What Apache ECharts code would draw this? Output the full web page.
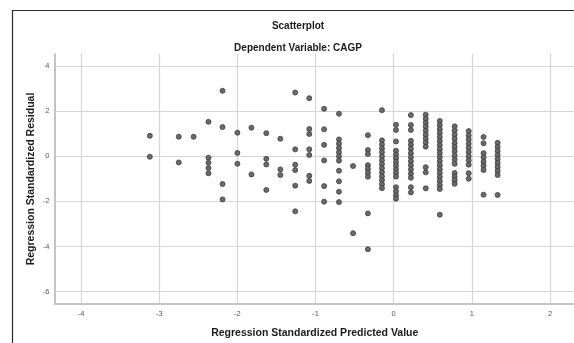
<!DOCTYPE html>
<html>
<head>
<meta charset="utf-8">
<script src="https://cdn.jsdelivr.net/npm/echarts@6/dist/echarts.min.js"></script>
<style>
  html, body { margin: 0; padding: 0; background: #fff; }
  #chart { width: 574px; height: 343px; }
</style>
</head>
<body>
<div id="chart"></div>
<script>
// predicted value of each column of points (x) and the residuals in it (y)
var predicted = [-3.12, -2.75, -2.56, -2.37, -2.19, -2.00, -1.82, -1.63, -1.45, -1.26,
    -1.08, -0.89, -0.70, -0.52, -0.33, -0.15, 0.03, 0.22, 0.41, 0.59, 0.78, 0.96, 1.15, 1.33];
var residuals = [
    [0.91, -0.02],
    [0.87, -0.27],
    [0.87],
    [1.53, -0.06, -0.28, -0.52, -0.75],
    [2.91, 1.30, -1.23, -1.91],
    [1.05, 0.15, -0.33],
    [1.27, -0.80],
    [1.03, -0.11, -0.36, -1.49],
    [0.78, -0.58, -0.83],
    [2.83, 0.31, -0.37, -0.61, -1.30, -2.44],
    [2.58, 1.21, 0.99, 0.31, 0.06, -0.86, -1.09],
    [2.11, 1.20, 0.51, -0.18, -1.32, -2.01],
    [1.89, 0.75, 0.56, 0.37, 0.18, 0.00, -0.19, -0.64, -1.11, -1.57, -2.03],
    [-0.43, -3.41],
    [0.94, 0.28, 0.10, -0.39, -0.56, -0.73, -0.90, -2.53, -4.12],
    [2.05, 0.71, 0.53, 0.35, 0.18, 0.00, -0.18, -0.35, -0.53, -0.71, -0.89, -1.06, -1.24, -1.41],
    [1.40, 1.17, 0.66, 0.25, 0.08, -0.08, -0.25, -0.41, -0.57, -0.74, -0.90, -1.37, -1.55, -1.73, -1.88],
    [1.83, 1.39, 1.17, 0.69, 0.51, 0.33, 0.14, -0.04, -0.22, -0.40, -0.58, -0.77, -0.95, -1.37, -1.60],
    [1.85, 1.67, 1.49, 1.32, 1.14, 0.96, 0.78, 0.61, 0.43, -0.48, -0.71, -1.42],
    [1.57, 1.39, 1.21, 1.04, 0.86, 0.68, 0.50, 0.32, 0.15, -0.03, -0.21, -0.39, -0.57, -0.74, -0.92, -1.10, -1.28, -1.45, -2.59],
    [1.33, 1.15, 0.96, 0.78, 0.59, 0.41, 0.23, 0.04, -0.14, -0.33, -0.74, -0.90, -1.06, -1.22],
    [1.12, 0.93, 0.75, 0.56, 0.38, 0.19, 0.00, -0.18, -0.37, -0.75, -0.99],
    [0.86, 0.58, 0.14, -0.05, -0.24, -0.42, -0.61, -1.70],
    [0.60, 0.42, 0.24, 0.06, -0.12, -0.30, -0.47, -0.65, -0.83, -1.71]
];
var xTicks = [-4, -3, -2, -1, 0, 1, 2];
var yTicks = [-6, -4, -2, 0, 2, 4];
var xRange = [-4.34, 2.32];
var yRange = [-6.55, 4.54];

var points = [];
predicted.forEach(function(x, i) {
    residuals[i].forEach(function(y) {
        points.push([x, y]);
    });
});

var font = '"Liberation Sans", Arial, sans-serif';
var myChart = echarts.init(document.getElementById('chart'), null, { renderer: 'canvas' });

var option = {
    animation: false,
    backgroundColor: '#fff',
    textStyle: { fontFamily: font },
    graphic: [
        {
            type: 'rect',
            shape: { x: 12.5, y: 10.5, width: 620, height: 400 },
            style: { fill: 'none', stroke: '#2b2b2b', lineWidth: 1.2 },
            silent: true
        },
        {
            type: 'text', x: 298, y: 26,
            style: { text: 'Scatterplot', align: 'center', verticalAlign: 'middle',
                font: 'bold 10px ' + font, fill: '#1a1a1a' }
        },
        {
            type: 'text', x: 298, y: 48,
            style: { text: 'Dependent Variable: CAGP', align: 'center', verticalAlign: 'middle',
                font: 'bold 10px ' + font, fill: '#1a1a1a' }
        }
    ],
    grid: {
        left: 54.5,
        right: -1,
        top: 54,
        bottom: 39,
        containLabel: false,
        outerBoundsMode: 'none'
    },
    xAxis: {
        type: 'value',
        min: xRange[0],
        max: xRange[1],
        name: 'Regression Standardized Predicted Value',
        nameLocation: 'middle',
        nameGap: 24,
        nameTextStyle: { fontWeight: 'bold', fontSize: 10.5, color: '#1a1a1a', fontFamily: font },
        axisLine: { show: true, onZero: false, lineStyle: { color: '#c4c4c4', width: 2 } },
        axisTick: { show: false, customValues: xTicks },
        axisLabel: { fontSize: 7.5, color: '#555', margin: 6, customValues: xTicks },
        splitLine: { show: true, lineStyle: { color: '#d6d6d6', width: 1.2 } }
    },
    yAxis: {
        type: 'value',
        min: yRange[0],
        max: yRange[1],
        name: 'Regression Standardized Residual',
        nameLocation: 'middle',
        nameGap: 18,
        nameMoveOverlap: false,
        nameTextStyle: { fontWeight: 'bold', fontSize: 10.5, color: '#1a1a1a', fontFamily: font },
        axisLine: { show: true, onZero: false, lineStyle: { color: '#c4c4c4', width: 2 } },
        axisTick: { show: false, customValues: yTicks },
        axisLabel: { fontSize: 7.5, color: '#555', margin: 5, customValues: yTicks },
        splitLine: { show: true, lineStyle: { color: '#d6d6d6', width: 1 } }
    },
    series: [{
        type: 'scatter',
        data: points,
        symbol: 'circle',
        symbolSize: 5,
        itemStyle: { color: '#6a6a6a', borderColor: '#3c3c3c', borderWidth: 0.8, opacity: 1 }
    }]
};
myChart.setOption(option);
</script>
</body>
</html>
